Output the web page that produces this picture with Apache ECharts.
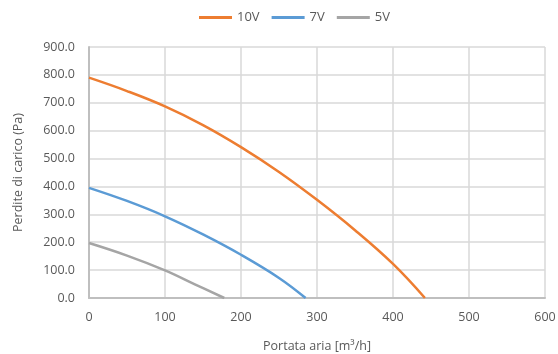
<!DOCTYPE html>
<html><head><meta charset="utf-8">
<script src="https://cdn.jsdelivr.net/npm/echarts@6/dist/echarts.min.js"></script>
<style>html,body{margin:0;padding:0;background:#fff}#c{width:558px;height:354px}</style>
</head><body><div id="c"></div>
<script>
const seriesNames = ['10V', '7V', '5V'];
const colors = ['#ED7D31', '#5B9BD5', '#A5A5A5'];
const flow10 = [0, 50, 100, 150, 200, 250, 300, 350, 400, 442];
const pres10 = [790, 742, 687, 620, 541, 452, 352, 243, 122, 0];
const flow7 = [0, 50, 100, 150, 200, 250, 285];
const pres7 = [395, 348, 293, 228, 155, 72, 0];
const flow5 = [0, 50, 100, 140, 178];
const pres5 = [197, 152, 99, 48, 0];
const xTitle = 'Portata aria [m³/h]';
const yTitle = 'Perdite di carico (Pa)';

const flows = [flow10, flow7, flow5];
const press = [pres10, pres7, pres5];
const font = '"Open Sans", "Noto Sans", sans-serif';
const chart = echarts.init(document.getElementById('c'));
chart.setOption({
  animation: false,
  textStyle: { fontFamily: font },
  legend: {
    top: 6, left: 194, itemWidth: 33, itemHeight: 3, itemGap: 12,
    icon: 'rect',
    textStyle: { color: '#595959', fontSize: 13, fontFamily: font },
    data: seriesNames
  },
  grid: { left: 89, right: 13, top: 47, bottom: 56, outerBoundsMode: 'none', containLabel: false },
  xAxis: {
    type: 'value', min: 0, max: 600, interval: 100,
    name: xTitle, nameLocation: 'middle', nameGap: 42,
    nameTextStyle: { color: '#595959', fontSize: 12.5 },
    axisLine: { lineStyle: { color: '#BFBFBF', width: 2 } },
    axisTick: { show: false },
    axisLabel: { color: '#595959', fontSize: 12.5, margin: 13 },
    splitLine: { show: true, lineStyle: { color: '#D9D9D9', width: 1.5 } }
  },
  yAxis: {
    type: 'value', min: 0, max: 900, interval: 100,
    name: yTitle, nameLocation: 'middle', nameGap: 64, nameRotate: 90,
    nameTextStyle: { color: '#595959', fontSize: 12.5 },
    axisLine: { show: true, lineStyle: { color: '#BFBFBF', width: 2 } },
    axisTick: { show: false },
    axisLabel: { color: '#595959', fontSize: 12.5, margin: 14, formatter: v => v.toFixed(1) },
    splitLine: { show: true, lineStyle: { color: '#D9D9D9', width: 1.5 } }
  },
  series: seriesNames.map((n, i) => ({
    name: n, type: 'line', smooth: 0.4, symbol: 'none',
    color: colors[i],
    lineStyle: { width: 2.5, color: colors[i] },
    data: flows[i].map((x, j) => [x, press[i][j]])
  }))
});
</script></body></html>
